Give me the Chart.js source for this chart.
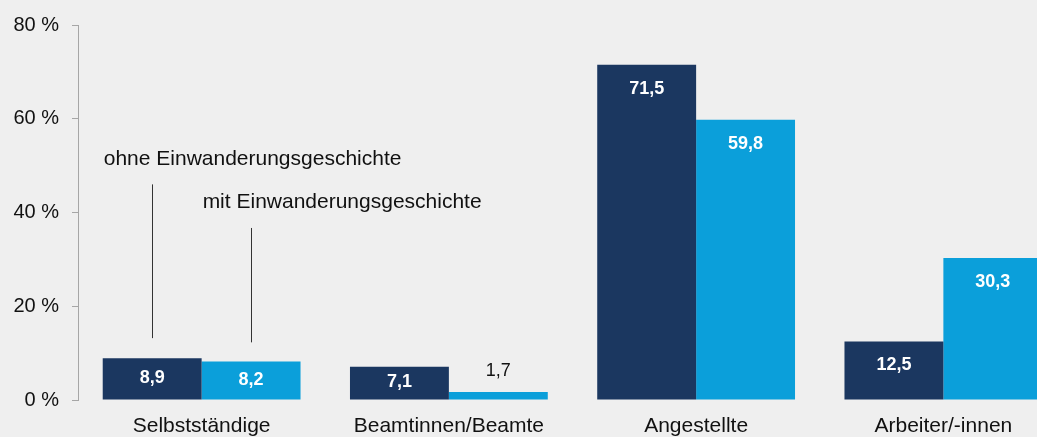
<!DOCTYPE html>
<html>
<head>
<meta charset="utf-8">
<script src="https://cdn.jsdelivr.net/npm/chart.js@4"></script>
<style>
    html, body { margin: 0; padding: 0; background: #efefef; overflow: hidden; }
    #wrap { width: 1037px; height: 437px; overflow: hidden; }
</style>
</head>
<body>
<div id="wrap"><canvas id="chart" width="1067" height="437"></canvas></div>
<script>
const categories = ['Selbstständige', 'Beamtinnen/Beamte', 'Angestellte', 'Arbeiter/-innen'];
const ohneValues = [8.9, 7.1, 71.5, 12.5];
const mitValues = [8.2, 1.7, 59.8, 30.3];
const yTicks = [0, 20, 40, 60, 80];
const seriesNames = ['ohne Einwanderungsgeschichte', 'mit Einwanderungsgeschichte'];

const dark = '#1b3760';
const light = '#0b9fda';
const textColor = '#111111';

// value labels on the bars
const valueLabels = {
    id: 'valueLabels',
    afterDatasetsDraw(chart) {
        const ctx = chart.ctx;
        ctx.save();
        ctx.textAlign = 'center';
        ctx.textBaseline = 'middle';
        chart.data.datasets.forEach((ds, di) => {
            const meta = chart.getDatasetMeta(di);
            meta.data.forEach((bar, i) => {
                const v = ds.data[i];
                const txt = v.toFixed(1).replace('.', ',');
                const top = bar.y, bottom = bar.base;
                if (bottom - top < 20) {
                    ctx.font = '18px Arial, "Liberation Sans", sans-serif';
                    ctx.fillStyle = textColor;
                    ctx.fillText(txt, bar.x, top - 21);
                } else {
                    ctx.font = 'bold 18px Arial, "Liberation Sans", sans-serif';
                    ctx.fillStyle = '#ffffff';
                    ctx.fillText(txt, bar.x, Math.min(top + 24, (top + bottom) / 2 - 1));
                }
            });
        });
        ctx.restore();
    }
};

// series names with pointer lines above the first group
const seriesNotes = {
    id: 'seriesNotes',
    afterDraw(chart) {
        const ctx = chart.ctx;
        const y = chart.scales.y;
        const notes = [
            { text: 51.4, from: 46.0, to: 13.2 },
            { text: 42.2, from: 36.7, to: 12.3 }
        ];
        ctx.save();
        ctx.font = '21px Arial, "Liberation Sans", sans-serif';
        ctx.fillStyle = textColor;
        ctx.strokeStyle = '#333333';
        ctx.lineWidth = 1;
        ctx.textBaseline = 'middle';
        notes.forEach((n, di) => {
            const bar = chart.getDatasetMeta(di).data[0];
            const left = bar.x - bar.width / 2;
            ctx.fillText(seriesNames[di], left + 1, y.getPixelForValue(n.text));
            const x = Math.round(bar.x) + 0.5;
            ctx.beginPath();
            ctx.moveTo(x, y.getPixelForValue(n.from));
            ctx.lineTo(x, y.getPixelForValue(n.to));
            ctx.stroke();
        });
        ctx.restore();
    }
};

new Chart(document.getElementById('chart'), {
    type: 'bar',
    data: {
        labels: categories,
        datasets: [
            { label: seriesNames[0], data: ohneValues, backgroundColor: dark },
            { label: seriesNames[1], data: mitValues, backgroundColor: light }
        ]
    },
    options: {
        responsive: false,
        animation: false,
        layout: { padding: { top: 23, left: 0, right: 0, bottom: 0 } },
        datasets: { bar: { categoryPercentage: 0.8, barPercentage: 1.0 } },
        plugins: { legend: { display: false }, tooltip: { enabled: false } },
        scales: {
            x: {
                grid: { display: false, drawTicks: false },
                border: { display: false },
                ticks: {
                    color: textColor,
                    padding: 14,
                    font: { family: 'Arial, "Liberation Sans", sans-serif', size: 21 }
                },
                afterFit(scale) { scale.height = 37; }
            },
            y: {
                min: 0,
                max: 80,
                afterBuildTicks(scale) { scale.ticks = yTicks.map(v => ({ value: v })); },
                grid: { drawOnChartArea: false, tickLength: 6, color: '#a6a6a6' },
                border: { color: '#a6a6a6' },
                ticks: {
                    color: textColor,
                    padding: 13,
                    font: { family: 'Arial, "Liberation Sans", sans-serif', size: 20 },
                    callback: v => v + ' %'
                },
                afterFit(scale) { scale.width = 78; }
            }
        }
    },
    plugins: [valueLabels, seriesNotes]
});
</script>
</body>
</html>
